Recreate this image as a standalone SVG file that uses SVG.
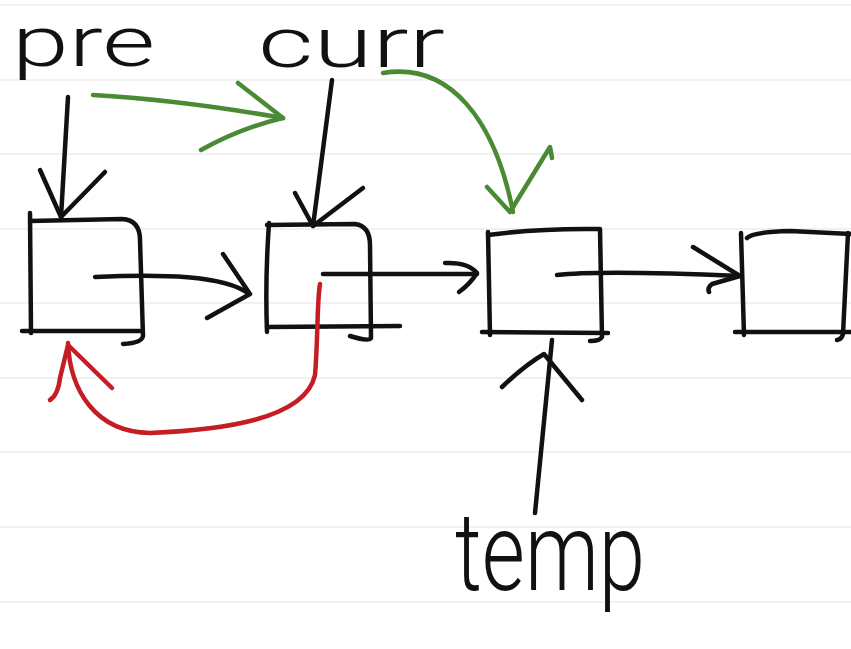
<svg xmlns="http://www.w3.org/2000/svg" width="851" height="649" viewBox="0 0 851 649">
  <style>
    .rule { stroke: #ededed; stroke-width: 1.5; }
    .ink { fill: none; stroke: #111111; stroke-width: 4.5; stroke-linecap: round; stroke-linejoin: round; }
    .green { fill: none; stroke: #4a8a35; stroke-width: 4.5; stroke-linecap: round; stroke-linejoin: round; }
    .red { fill: none; stroke: #c41e24; stroke-width: 4.5; stroke-linecap: round; stroke-linejoin: round; }
    .label { font-family: Roboto, Lato, "Liberation Sans", sans-serif; font-weight: 300; fill: #111111; }
  </style>
  <rect x="0" y="0" width="851" height="649" fill="#ffffff"/>
  <g id="paper-lines">
    <line class="rule" x1="0" y1="5" x2="851" y2="5"/>
    <line class="rule" x1="0" y1="80" x2="851" y2="80"/>
    <line class="rule" x1="0" y1="154" x2="851" y2="154"/>
    <line class="rule" x1="0" y1="229" x2="851" y2="229"/>
    <line class="rule" x1="0" y1="303" x2="851" y2="303"/>
    <line class="rule" x1="0" y1="378" x2="851" y2="378"/>
    <line class="rule" x1="0" y1="452" x2="851" y2="452"/>
    <line class="rule" x1="0" y1="527" x2="851" y2="527"/>
    <line class="rule" x1="0" y1="602" x2="851" y2="602"/>
  </g>

  <g id="label-pre">
    <text class="label" x="12" y="66" font-size="70" textLength="143" lengthAdjust="spacingAndGlyphs">pre</text>
  </g>
  <g id="label-curr">
    <text class="label" x="258" y="67" font-size="71" textLength="187" lengthAdjust="spacingAndGlyphs">curr</text>
  </g>
  <g id="label-temp">
    <text class="label" x="455" y="590" font-size="110" textLength="190" lengthAdjust="spacingAndGlyphs">temp</text>
  </g>

  <g id="node1">
    <path class="ink" d="M30,213 L31,333"/>
    <path class="ink" d="M30,221 L122,219 Q140,220 140,240 L143,336 Q142,343 123,344"/>
    <path class="ink" d="M22,331 L140,331"/>
  </g>
  <g id="node2">
    <path class="ink" d="M269,223 Q265,280 267,332"/>
    <path class="ink" d="M267,225 L355,224 Q370,226 370,245 L371,338 Q369,342 350,336"/>
    <path class="ink" d="M267,327 L400,326"/>
  </g>
  <g id="node3">
    <path class="ink" d="M488,232 L490,335"/>
    <path class="ink" d="M488,235 Q540,228 600,229 L602,337 Q600,341 590,341"/>
    <path class="ink" d="M482,332 L608,333"/>
  </g>
  <g id="node4">
    <path class="ink" d="M741,233 L744,335"/>
    <path class="ink" d="M747,238 Q752,232 790,231 L851,234"/>
    <path class="ink" d="M848,233 L843,334 Q842,339 837,340"/>
    <path class="ink" d="M735,332 L851,332"/>
  </g>

  <g id="connectors">
    <!-- next pointers -->
    <path class="ink" d="M95,277 C160,274 225,275 249,294"/>
    <path class="ink" d="M223,254 L250,294 L207,318"/>
    <path class="ink" d="M323,274 L477,274"/>
    <path class="ink" d="M445,263 Q468,262 477,273 Q470,284 459,292"/>
    <path class="ink" d="M557,275 Q600,270 740,276"/>
    <path class="ink" d="M693,247 L740,276 L712,284 Q707,288 709,292"/>
    <!-- pointer arrows -->
    <path class="ink" d="M68,97 L61,217"/>
    <path class="ink" d="M40,170 L61,217 L105,172"/>
    <path class="ink" d="M332,80 L313,226"/>
    <path class="ink" d="M295,193 L313,226 L363,188"/>
    <path class="ink" d="M552,340 L535,513"/>
    <path class="ink" d="M502,387 Q525,365 544,354 L582,400"/>
    <!-- green moves -->
    <path class="green" d="M93,95 Q180,100 283,118"/>
    <path class="green" d="M238,83 L283,118 Q240,128 201,150"/>
    <path class="green" d="M383,73 C450,62 495,120 513,212"/>
    <path class="green" d="M487,187 L510,212 L550,147 L552,158"/>
    <!-- red reverse -->
    <path class="red" d="M320,284 C317,300 318,340 315,375 C305,420 220,430 150,433 C95,432 70,390 68,343"/>
    <path class="red" d="M50,400 Q58,395 60,378 L68,345 L112,388"/>
  </g>
</svg>
